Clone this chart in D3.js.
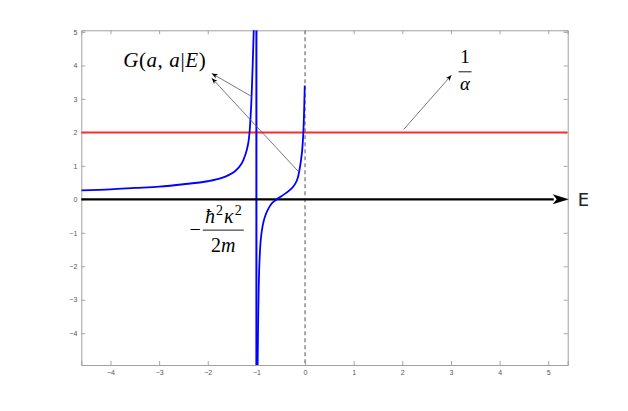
<!DOCTYPE html>
<html>
<head>
<meta charset="utf-8">
<script src="https://cdn.jsdelivr.net/npm/d3@7"></script>
<style>
  body { margin: 0; background: #fff; }
  .tick-label { font-family: "Liberation Sans", Arial, sans-serif; font-size: 7px; fill: #555; }
  .math { font-family: "Liberation Serif", "DejaVu Serif", serif; fill: #000; }
</style>
</head>
<body>
<div id="chart-container"></div>
<script>
// tick values on both axes
const xTicks = [-4, -3, -2, -1, 0, 1, 2, 3, 4, 5];
const yTicks = [-4, -3, -2, -1, 0, 1, 2, 3, 4, 5];
const xDomain = [-4.6, 5.4];
const yDomain = [-4.95, 5.05];

// G(a,a|E) left of the pole at E = -1
const leftE = [-4.6, -4, -3.5, -3, -2.5, -2, -1.71, -1.44, -1.3, -1.22, -1.17, -1.14, -1.11, -1.083, -1.054, -1.045];
const leftG = [0.27, 0.30, 0.34, 0.38, 0.45, 0.54, 0.64, 0.84, 1.08, 1.36, 1.66, 2.02, 2.72, 3.72, 5.1, 5.6];

// G(a,a|E) between the pole and E = 0
const rightE = [-0.979, -0.975, -0.962, -0.95, -0.935, -0.91, -0.87, -0.82, -0.75, -0.67, -0.58, -0.48, -0.38, -0.28, -0.2, -0.15, -0.12, -0.09, -0.06, -0.035, -0.02, -0.006];
const rightG = [-5.6, -5.0, -3.4, -2.5, -1.8, -1.2, -0.78, -0.5, -0.27, -0.1, 0, 0.1, 0.2, 0.32, 0.47, 0.64, 0.84, 1.1, 1.45, 2.0, 2.6, 3.4];

const poleE = -1;        // -hbar^2 kappa^2 / 2m
const inverseAlpha = 2;  // 1/alpha

class Plot {
  constructor(selector) {
    this.width = 628;
    this.height = 411;
    this.left = 81.3;
    this.right = 567.7;
    this.top = 30.3;
    this.bottom = 365;
    this.svg = d3.select(selector).append("svg").attr("width", this.width).attr("height", this.height);
    this.x = d3.scaleLinear().domain(xDomain).range([this.left, this.right]);
    this.y = d3.scaleLinear().domain(yDomain).range([this.bottom, this.top]);

    this.defs();
    this.drawFrame();
    this.drawLines();
    this.drawCurves();
    this.drawNotes();
  }

  defs() {
    let defs = this.svg.append("defs");
    defs.append("clipPath").attr("id", "clip").append("rect").
    attr("x", this.left).attr("y", this.top).
    attr("width", this.right - this.left).attr("height", this.bottom - this.top);

    defs.append("marker").attr("id", "head").attr("viewBox", "0 0 10 10").
    attr("refX", 10).attr("refY", 5).attr("markerWidth", 6).attr("markerHeight", 6).
    attr("markerUnits", "userSpaceOnUse").attr("orient", "auto").
    append("path").attr("d", "M0,1 L10,5 L0,9 L3,5 Z").attr("fill", "#000");
  }

  drawFrame() {
    let tick = 4;
    let bottomAxis = d3.axisBottom(this.x).tickValues(xTicks).tickSize(-tick).tickPadding(5).tickFormat(d3.format("d"));
    let topAxis = d3.axisTop(this.x).tickValues(xTicks).tickSize(-tick).tickFormat("");
    let leftAxis = d3.axisLeft(this.y).tickValues(yTicks).tickSize(-tick).tickPadding(4).tickFormat(d3.format("d"));
    let rightAxis = d3.axisRight(this.y).tickValues(yTicks).tickSize(-tick).tickFormat("");

    let axes = [
      [bottomAxis, `translate(0, ${this.bottom})`],
      [topAxis, `translate(0, ${this.top})`],
      [leftAxis, `translate(${this.left}, 0)`],
      [rightAxis, `translate(${this.right}, 0)`]];

    axes.forEach(([axis, transform]) => {
      let g = this.svg.append("g").attr("transform", transform).call(axis);
      g.select(".domain").attr("stroke", "#a0a0a0");
      g.selectAll(".tick line").attr("stroke", "#a8a8a8");
      g.selectAll(".tick text").attr("class", "tick-label").attr("fill", null);
    });
  }

  drawLines() {
    let plot = this.svg.append("g").attr("clip-path", "url(#clip)");

    // dashed E = 0
    plot.append("line").
    attr("x1", this.x(0)).attr("x2", this.x(0)).
    attr("y1", this.top).attr("y2", this.bottom).
    attr("stroke", "#8c8c8c").attr("stroke-width", 1.5).attr("stroke-dasharray", "4,3");

    // 1/alpha level
    plot.append("line").
    attr("x1", this.left).attr("x2", this.right).
    attr("y1", this.y(inverseAlpha)).attr("y2", this.y(inverseAlpha)).
    attr("stroke", "#ff2a2a").attr("stroke-width", 2);

    // pole
    plot.append("line").
    attr("x1", this.x(poleE)).attr("x2", this.x(poleE)).
    attr("y1", this.top).attr("y2", this.bottom).
    attr("stroke", "#0000ff").attr("stroke-width", 2);

    // energy axis with arrow
    this.svg.append("line").
    attr("x1", this.left).attr("x2", this.right - 14).
    attr("y1", this.y(0)).attr("y2", this.y(0)).
    attr("stroke", "#000").attr("stroke-width", 2.2);
    let y0 = this.y(0);
    this.svg.append("path").
    attr("d", `M${this.right + 1},${y0} L${this.right - 15},${y0 - 5} L${this.right - 11},${y0} L${this.right - 15},${y0 + 5} Z`).
    attr("fill", "#000");

    this.svg.append("text").text("E").
    attr("x", this.right + 10).attr("y", y0 + 7).
    style("font-family", "'DejaVu Sans', sans-serif").style("font-size", "18px").attr("fill", "#222");
  }

  drawCurves() {
    let line = d3.line().x(d => this.x(d[0])).y(d => this.y(d[1])).curve(d3.curveCatmullRom.alpha(0.5));
    let branches = [d3.zip(leftE, leftG), d3.zip(rightE, rightG)];

    this.svg.append("g").attr("clip-path", "url(#clip)").
    selectAll("path").data(branches).enter().
    append("path").attr("d", line).
    attr("fill", "none").attr("stroke", "#0000ff").attr("stroke-width", 1.8);
  }

  arrow(from, to) {
    this.svg.append("line").
    attr("x1", this.x(from[0])).attr("y1", this.y(from[1])).
    attr("x2", this.x(to[0])).attr("y2", this.y(to[1])).
    attr("stroke", "#555").attr("stroke-width", 0.8).
    attr("marker-end", "url(#head)");
  }

  drawNotes() {
    // G(a,a|E)
    let g = this.svg.append("text").attr("class", "math").
    attr("x", this.x(-3.74)).attr("y", this.y(3.96)).style("font-size", "21px").style("letter-spacing", "0.6px");
    g.append("tspan").text("G").style("font-style", "italic");
    g.append("tspan").text("(");
    g.append("tspan").text("a").style("font-style", "italic");
    g.append("tspan").text(", ");
    g.append("tspan").text("a").style("font-style", "italic");
    g.append("tspan").text("|");
    g.append("tspan").text("E").style("font-style", "italic");
    g.append("tspan").text(")");

    this.arrow([-1.095, 3.07], [-1.917, 3.76]);
    this.arrow([-0.123, 0.81], [-1.917, 3.62]);

    // 1/alpha
    let cx = this.x(3.29);
    this.svg.append("text").attr("class", "math").text("1").
    attr("x", cx).attr("y", this.y(4.07)).attr("text-anchor", "middle").style("font-size", "19px");
    this.svg.append("line").
    attr("x1", cx - 6.5).attr("x2", cx + 6.5).attr("y1", this.y(3.81)).attr("y2", this.y(3.81)).
    attr("stroke", "#000").attr("stroke-width", 0.9);
    this.svg.append("text").attr("class", "math").text("α").
    attr("x", cx).attr("y", this.y(3.27)).attr("text-anchor", "middle").
    style("font-size", "19px").style("font-style", "italic");

    this.arrow([2.03, 2.09], [3.01, 3.71]);

    // -hbar^2 kappa^2 / 2m
    let fx = this.x(-1.68);
    let barY = this.y(-0.92);
    this.svg.append("text").attr("class", "math").text("−").
    attr("x", this.x(-2.26)).attr("y", barY + 6).attr("text-anchor", "middle").style("font-size", "20px");
    this.svg.append("line").
    attr("x1", fx - 20.5).attr("x2", fx + 20.5).attr("y1", barY).attr("y2", barY).
    attr("stroke", "#000").attr("stroke-width", 0.9);
    let num = this.svg.append("text").attr("class", "math").
    attr("x", fx).attr("y", this.y(-0.72)).attr("text-anchor", "middle").style("font-size", "20px");
    num.append("tspan").text("ħ").style("font-style", "italic");
    num.append("tspan").text("2").attr("dy", -8).attr("dx", 1).style("font-size", "14px");
    num.append("tspan").text("κ").attr("dy", 8).attr("dx", 1).style("font-style", "italic");
    num.append("tspan").text("2").attr("dy", -8).attr("dx", 1).style("font-size", "14px");
    let den = this.svg.append("text").attr("class", "math").
    attr("x", fx).attr("y", this.y(-1.57)).attr("text-anchor", "middle").style("font-size", "20px");
    den.append("tspan").text("2");
    den.append("tspan").text("m").style("font-style", "italic");
  }}


let plot = new Plot("#chart-container");
</script>
</body>
</html>
